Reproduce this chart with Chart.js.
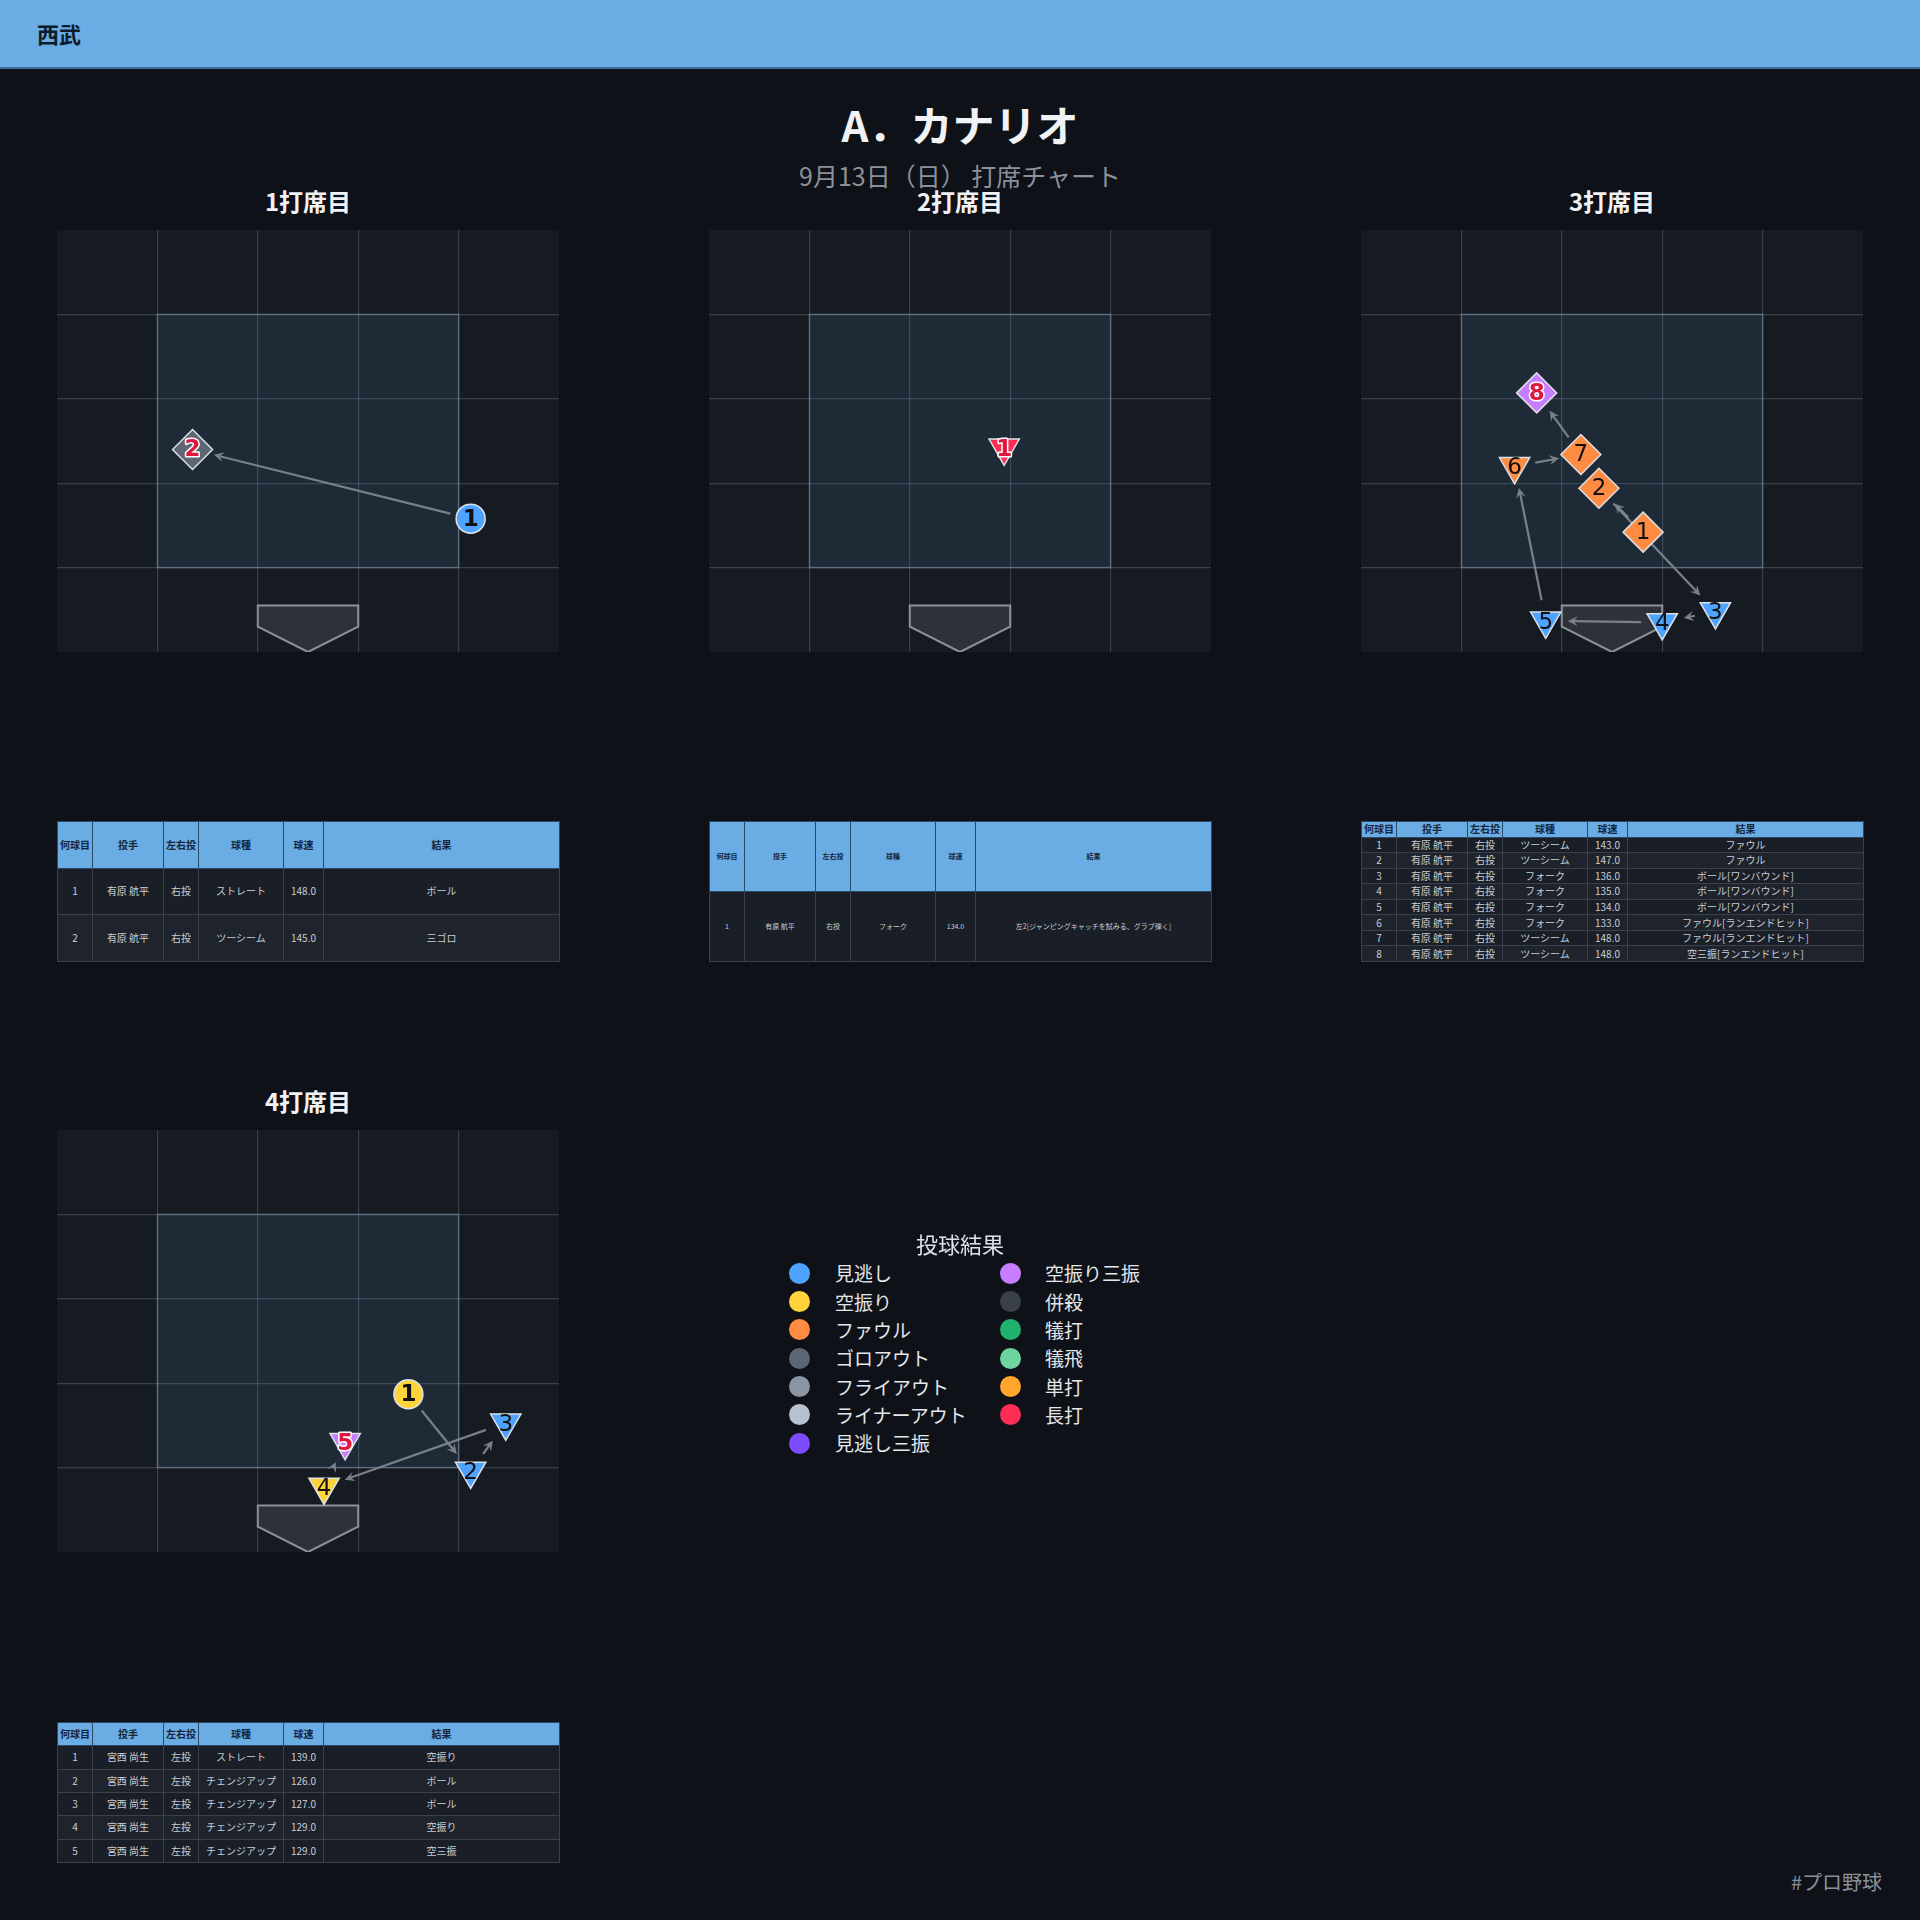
<!DOCTYPE html>
<html>
<head>
<meta charset="utf-8">
<script src="https://cdn.jsdelivr.net/npm/chart.js@4.4.1/dist/chart.umd.min.js"></script>
<style>
body { margin:0; width:1920px; height:1920px; background:#0e1117; position:relative; overflow:hidden; font-family:"Noto Sans CJK JP","Noto Sans",sans-serif; }
#bandeau { position:absolute; left:0; top:0; width:1920px; height:67px; background:#6aace4; border-bottom:2px solid #3b6f9c; }
#equipe { position:absolute; left:37px; top:20px; font-size:22px; line-height:26px; font-weight:bold; color:#0d1b2a; }
#titre { position:absolute; left:0; width:1920px; top:99px; text-align:center; font-size:42px; line-height:50px; font-weight:bold; color:#f0f2f5; }
#sousTitre { position:absolute; left:0; width:1920px; top:160px; text-align:center; font-size:25px; line-height:30px; color:#8b9099; }
.titrePanneau { position:absolute; width:502px; text-align:center; font-size:24px; line-height:30px; font-weight:bold; color:#f0f2f5; }
canvas { position:absolute; }
table { position:absolute; width:502px; border-collapse:collapse; table-layout:fixed; }
th, td { padding:0; text-align:center; white-space:nowrap; overflow:hidden; line-height:1; }
th { background:#6aace4; color:#13243b; font-weight:bold; border:1px solid #2c4a66; }
td { color:#c8ced6; border:1px solid #3a414c; }
tr.pair td { background:#1a1e26; }
tr.impair td { background:#1e232c; }
#legendeTitre { position:absolute; left:0; width:1920px; top:1229px; text-align:center; font-size:22px; line-height:28px; color:#dde1e6; }
.legRond { position:absolute; width:21px; height:21px; border-radius:50%; }
.legTexte { position:absolute; font-size:19px; line-height:24px; color:#e3e6ea; white-space:nowrap; }
#pied { position:absolute; right:38px; top:1870px; font-size:20px; line-height:24px; color:#8b9099; }
</style>
</head>
<body>
<div id="bandeau"><div id="equipe">西武</div></div>
<div id="titre">A．カナリオ</div>
<div id="sousTitre">9月13日（日） 打席チャート</div>

<div class="titrePanneau" style="left:57px;top:186px">1打席目</div>
<div class="titrePanneau" style="left:709px;top:186px">2打席目</div>
<div class="titrePanneau" style="left:1361px;top:186px">3打席目</div>
<div class="titrePanneau" style="left:57px;top:1086px">4打席目</div>

<canvas id="chart1" width="502" height="422" style="left:57px;top:230px"></canvas>
<canvas id="chart2" width="502" height="422" style="left:709px;top:230px"></canvas>
<canvas id="chart3" width="502" height="422" style="left:1361px;top:230px"></canvas>
<canvas id="chart4" width="502" height="422" style="left:57px;top:1130px"></canvas>

<div id="tables"></div>
<div id="legendeTitre">投球結果</div>
<div id="legende"></div>
<div id="pied">#プロ野球</div>

<script>
// ===== CATEGORIES =====
const resultCats = ['見逃し','空振り','ファウル','ゴロアウト','フライアウト','ライナーアウト','見逃し三振','空振り三振','併殺','犠打','犠飛','単打','長打']
const resultColors = ['#4da3ff','#ffd43b','#ff8c42','#5c6773','#8a96a3','#b6c2cd','#7c4dff','#c77dff','#3a404a','#20b26c','#6fd3a0','#ffa62b','#ff2d55']
const tableHead = ['何球目','投手','左右投','球種','球速','結果']

// ===== ZONE / PLAQUE (unités de la grille) =====
const zoneX = [1, 4]
const zoneY = [1, 4]
const plateX = [2, 3, 3, 2.5, 2]
const plateY = [0.55, 0.55, 0.3, 0, 0.3]

// ===== 1打席目 =====
const ab1X = [4.12, 1.35]
const ab1Y = [1.58, 2.40]
const ab1Cat = ['見逃し','ゴロアウト']
const ab1Pitcher = ['有原 航平','有原 航平']
const ab1Hand = ['右投','右投']
const ab1Type = ['ストレート','ツーシーム']
const ab1Speed = [148.0, 145.0]
const ab1Result = ['ボール','三ゴロ']

// ===== 2打席目 =====
const ab2X = [2.94]
const ab2Y = [2.42]
const ab2Cat = ['長打']
const ab2Pitcher = ['有原 航平']
const ab2Hand = ['右投']
const ab2Type = ['フォーク']
const ab2Speed = [134.0]
const ab2Result = ['左2[ジャンピングキャッチを試みる、グラブ弾く]']

// ===== 3打席目 =====
const ab3X = [2.81, 2.37, 3.53, 3.00, 1.84, 1.53, 2.19, 1.75]
const ab3Y = [1.42, 1.94, 0.48, 0.35, 0.37, 2.20, 2.34, 3.07]
const ab3Cat = ['ファウル','ファウル','見逃し','見逃し','見逃し','ファウル','ファウル','空振り三振']
const ab3Pitcher = ['有原 航平','有原 航平','有原 航平','有原 航平','有原 航平','有原 航平','有原 航平','有原 航平']
const ab3Hand = ['右投','右投','右投','右投','右投','右投','右投','右投']
const ab3Type = ['ツーシーム','ツーシーム','フォーク','フォーク','フォーク','フォーク','ツーシーム','ツーシーム']
const ab3Speed = [143.0, 147.0, 136.0, 135.0, 134.0, 133.0, 148.0, 148.0]
const ab3Result = ['ファウル','ファウル','ボール[ワンバウンド]','ボール[ワンバウンド]','ボール[ワンバウンド]','ファウル[ランエンドヒット]','ファウル[ランエンドヒット]','空三振[ランエンドヒット]']

// ===== 4打席目 =====
const ab4X = [3.50, 4.12, 4.47, 2.66, 2.87]
const ab4Y = [1.87, 0.96, 1.53, 0.77, 1.30]
const ab4Cat = ['空振り','見逃し','見逃し','空振り','空振り三振']
const ab4Pitcher = ['宮西 尚生','宮西 尚生','宮西 尚生','宮西 尚生','宮西 尚生']
const ab4Hand = ['左投','左投','左投','左投','左投']
const ab4Type = ['ストレート','チェンジアップ','チェンジアップ','チェンジアップ','チェンジアップ']
const ab4Speed = [139.0, 126.0, 127.0, 129.0, 129.0]
const ab4Result = ['空振り','ボール','ボール','空振り','空三振']

// ===== STYLES DES MARQUEURS =====
const symboles = { 'ストレート': 'circle', 'ツーシーム': 'rectRot', 'フォーク': 'triangle', 'チェンジアップ': 'triangle' }
const rayons = { circle: 14.5, rectRot: 20, triangle: 17.5 }
const couleurDe = cat => resultColors[resultCats.indexOf(cat)]

// ===== PLUGIN ZONE + FLECHES + NUMEROS =====
function fleche(ctx, xa, ya, xb, yb) {
    const dx = xb - xa, dy = yb - ya, len = Math.hypot(dx, dy)
    const r0 = 21, r1 = 22, tete = 10
    if(len <= r0 + r1) return
    const ux = dx / len, uy = dy / len
    const sx = xa + ux * r0, sy = ya + uy * r0
    const ex = xb - ux * r1, ey = yb - uy * r1
    ctx.beginPath()
    ctx.moveTo(sx, sy)
    ctx.lineTo(ex - ux * tete * 0.5, ey - uy * tete * 0.5)
    ctx.stroke()
    ctx.beginPath()
    ctx.moveTo(ex, ey)
    ctx.lineTo(ex - ux * tete - uy * tete * 0.5, ey - uy * tete + ux * tete * 0.5)
    ctx.lineTo(ex - ux * tete * 0.6, ey - uy * tete * 0.6)
    ctx.lineTo(ex - ux * tete + uy * tete * 0.5, ey - uy * tete - ux * tete * 0.5)
    ctx.closePath()
    ctx.fill()
}

const zonePlugin = {
    id: 'zonePlugin',
    beforeDraw(chart) {
        const { ctx, chartArea: a, scales: { x, y } } = chart
        ctx.save()
        ctx.fillStyle = '#161a21'
        ctx.fillRect(a.left, a.top, a.width, a.height)
        const x0 = x.getPixelForValue(zoneX[0]), x1 = x.getPixelForValue(zoneX[1])
        const y0 = y.getPixelForValue(zoneY[1]), y1 = y.getPixelForValue(zoneY[0])
        ctx.fillStyle = '#1f2a37'
        ctx.fillRect(x0, y0, x1 - x0, y1 - y0)
        ctx.restore()
    },
    beforeDatasetsDraw(chart) {
        const { ctx, scales: { x, y } } = chart
        ctx.save()
        const x0 = x.getPixelForValue(zoneX[0]), x1 = x.getPixelForValue(zoneX[1])
        const y0 = y.getPixelForValue(zoneY[1]), y1 = y.getPixelForValue(zoneY[0])
        ctx.strokeStyle = 'rgba(140,160,180,0.45)'
        ctx.lineWidth = 1.5
        ctx.strokeRect(x0, y0, x1 - x0, y1 - y0)
        // plaque
        ctx.beginPath()
        plateX.forEach((px, i) => {
            const X = x.getPixelForValue(px), Y = y.getPixelForValue(plateY[i])
            if(i === 0) ctx.moveTo(X, Y); else ctx.lineTo(X, Y)
        })
        ctx.closePath()
        ctx.fillStyle = '#2d3239'
        ctx.fill()
        ctx.strokeStyle = '#8d9299'
        ctx.lineWidth = 2
        ctx.stroke()
        // fleches
        const pts = chart.getDatasetMeta(0).data
        ctx.strokeStyle = 'rgba(125,133,143,0.95)'
        ctx.fillStyle = 'rgba(125,133,143,0.95)'
        ctx.lineWidth = 2.2
        for(let i = 1; i < pts.length; i++) fleche(ctx, pts[i-1].x, pts[i-1].y, pts[i].x, pts[i].y)
        ctx.restore()
    },
    afterDatasetsDraw(chart) {
        const { ctx } = chart
        const pts = chart.getDatasetMeta(0).data
        const styles = chart.data.datasets[0].pointStyle
        ctx.save()
        ctx.textAlign = 'center'
        ctx.textBaseline = 'middle'
        pts.forEach((p, i) => {
            const dernier = i === pts.length - 1
            const gras = dernier || styles[i] === 'circle'
            ctx.font = (gras ? 'bold ' : '') + '23px "DejaVu Sans"'
            const dy = styles[i] === 'triangle' ? 2 : 1
            const txt = String(i + 1)
            if(dernier) {
                ctx.lineWidth = 3
                ctx.strokeStyle = '#ffffff'
                ctx.lineJoin = 'round'
                ctx.strokeText(txt, p.x, p.y + dy)
                ctx.fillStyle = '#e0173d'
            } else {
                ctx.fillStyle = '#111111'
            }
            ctx.fillText(txt, p.x, p.y + dy)
        })
        ctx.restore()
    }
}

const grille = {
    color: c => (c.tick && (c.tick.value === 0 || c.tick.value === 5)) ? 'rgba(0,0,0,0)' : 'rgba(120,135,150,0.35)',
    lineWidth: 1.2,
    drawTicks: false
}

function creerPanneau(id, xs, ys, cats, types) {
    const styles = types.map(t => symboles[t])
    new Chart(document.getElementById(id), {
        type: 'scatter',
        data: {
            datasets: [{
                data: xs.map((v, i) => ({ x: v, y: ys[i] })),
                pointStyle: styles,
                pointRadius: styles.map(s => rayons[s]),
                pointHoverRadius: styles.map(s => rayons[s]),
                pointRotation: styles.map(s => s === 'triangle' ? 180 : 0),
                backgroundColor: cats.map(couleurDe),
                borderColor: '#dde1e6',
                borderWidth: 1.5,
                clip: false
            }]
        },
        options: {
            responsive: false,
            animation: false,
            events: [],
            layout: { padding: 0, autoPadding: false },
            plugins: { legend: { display: false }, tooltip: { enabled: false } },
            scales: {
                x: { type: 'linear', min: 0, max: 5, ticks: { display: false, stepSize: 1 }, grid: grille, border: { display: false } },
                y: { type: 'linear', min: 0, max: 5, ticks: { display: false, stepSize: 1 }, grid: grille, border: { display: false } }
            }
        },
        plugins: [zonePlugin]
    })
}

creerPanneau('chart1', ab1X, ab1Y, ab1Cat, ab1Type)
creerPanneau('chart2', ab2X, ab2Y, ab2Cat, ab2Type)
creerPanneau('chart3', ab3X, ab3Y, ab3Cat, ab3Type)
creerPanneau('chart4', ab4X, ab4Y, ab4Cat, ab4Type)

// ===== TABLES =====
const largeursCol = [35, 71, 35, 85, 40, 236]
function creerTable(left, top, pitchers, hands, types, speeds, results, taille) {
    const n = pitchers.length
    const h = 140 / (n + 1)
    let html = `<table style="left:${left}px;top:${top}px;font-size:${taille}px"><colgroup>`
    html += largeursCol.map(w => `<col style="width:${w}px">`).join('') + '</colgroup>'
    html += `<tr style="height:${h}px">` + tableHead.map(t => `<th>${t}</th>`).join('') + '</tr>'
    for(let i = 0; i < n; i++) {
        html += `<tr class="${i % 2 ? 'impair' : 'pair'}" style="height:${h}px">`
        html += [i + 1, pitchers[i], hands[i], types[i], speeds[i].toFixed(1), results[i]].map(v => `<td>${v}</td>`).join('')
        html += '</tr>'
    }
    return html + '</table>'
}
document.getElementById('tables').innerHTML =
    creerTable(57, 821, ab1Pitcher, ab1Hand, ab1Type, ab1Speed, ab1Result, 10) +
    creerTable(709, 821, ab2Pitcher, ab2Hand, ab2Type, ab2Speed, ab2Result, 7) +
    creerTable(1361, 821, ab3Pitcher, ab3Hand, ab3Type, ab3Speed, ab3Result, 10) +
    creerTable(57, 1722, ab4Pitcher, ab4Hand, ab4Type, ab4Speed, ab4Result, 10)

// ===== LEGENDE =====
let leg = ''
resultCats.forEach((c, i) => {
    const col = i < 7 ? 0 : 1
    const ligne = i < 7 ? i : i - 7
    const cy = 1273.3 + ligne * 28.33
    const cx = col ? 1010 : 799
    const tx = col ? 1045 : 835
    leg += `<div class="legRond" style="left:${cx - 10.5}px;top:${cy - 10.5}px;background:${resultColors[i]}"></div>`
    leg += `<div class="legTexte" style="left:${tx}px;top:${cy - 12}px">${c}</div>`
})
document.getElementById('legende').innerHTML = leg
</script>
</body>
</html>
